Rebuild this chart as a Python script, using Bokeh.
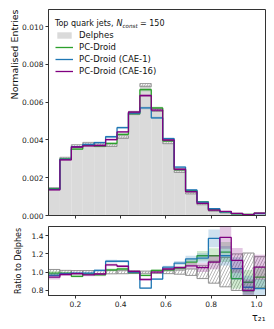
import numpy as np
from bokeh.plotting import figure
from bokeh.layouts import column
from bokeh.models import Legend, LegendItem, Label, FixedTicker, PrintfTickFormatter, Range1d, Title
from bokeh.embed import file_html
from bokeh.resources import INLINE

# ---------------- data ----------------
bin_lo, bin_hi, n_bins = 0.081, 1.04, 19
x_ticks = [0.2, 0.4, 0.6, 0.8, 1.0]
y_ticks_main = [0.0, 0.002, 0.004, 0.006, 0.008, 0.010]
y_ticks_ratio = [0.8, 1.0, 1.2, 1.4]

delphes = [0.00143, 0.00302, 0.00368, 0.00380, 0.00378, 0.00372, 0.00415, 0.00542,
           0.00690, 0.00558, 0.00386, 0.00233, 0.00118, 0.00061, 0.00026, 0.00016,
           0.00010, 0.00006, 0.00012]
ratio_pc = [0.99, 0.99, 0.955, 0.98, 0.97, 1.025, 1.035, 0.995, 0.965, 1.02,
            1.025, 1.045, 1.11, 1.18, 1.18, 1.22, 0.93, 0.89, 0.945]
ratio_cae1 = [0.965, 0.985, 0.99, 0.99, 1.02, 1.12, 1.12, 1.0, 0.825, 0.925,
              1.055, 1.10, 1.145, 1.155, 1.37, 1.18, 1.04, 0.835, 0.82]
ratio_cae16 = [0.945, 0.975, 0.985, 0.97, 0.98, 1.08, 1.065, 1.01, 0.92, 1.0,
               1.035, 1.05, 1.07, 1.05, 1.11, 1.38, 1.13, 0.80, 1.055]
delphes_err = [0.03, 0.02, 0.018, 0.018, 0.018, 0.018, 0.017, 0.015, 0.012, 0.013,
               0.016, 0.022, 0.035, 0.07, 0.12, 0.16, 0.20, 0.21, 0.17]
model_err = [0.025, 0.015, 0.014, 0.014, 0.014, 0.014, 0.013, 0.012, 0.012, 0.012,
             0.014, 0.02, 0.03, 0.045, 0.07, 0.09, 0.12, 0.15, 0.13]

series = [
    ("PC-Droid", ratio_pc, "#2ca02c"),
    ("PC-Droid (CAE-1)", ratio_cae1, "#1f77b4"),
    ("PC-Droid (CAE-16)", ratio_cae16, "#800080"),
]

edges = np.linspace(bin_lo, bin_hi, n_bins + 1)
left, right = edges[:-1], edges[1:]
d = np.array(delphes)
de = np.array(delphes_err)
me = np.array(model_err)

FONT = "DejaVu Sans"
AX = "#333333"
TXT = "#111111"


def style(p):
    p.xgrid.visible = False
    p.ygrid.visible = False
    p.outline_line_color = AX
    p.outline_line_width = 1
    p.background_fill_color = "white"
    p.border_fill_color = "white"
    for ax in (p.xaxis[0], p.yaxis[0]):
        ax.axis_line_color = AX
        ax.major_tick_line_color = AX
        ax.major_tick_in = 0
        ax.major_tick_out = 3
        ax.minor_tick_in = 0
        ax.minor_tick_out = 0
        ax.minor_tick_line_color = None
        ax.major_label_text_font = FONT
        ax.major_label_text_font_size = "7.5px"
        ax.major_label_text_color = "#222222"
        ax.major_label_standoff = 2


def style_title(t, size):
    t.text_font = FONT
    t.text_font_size = size
    t.text_font_style = "normal"
    t.text_color = TXT
    t.standoff = 0
    t.offset = 0


x_range = Range1d(bin_lo, bin_hi)

# ---------------- main panel ----------------
p1 = figure(width=266, height=222, x_range=x_range, y_range=Range1d(0, 0.0109),
            output_backend="svg", toolbar_location=None,
            title="Normalised Entries", title_location="left",
            min_border_left=48, min_border_right=1, min_border_top=9, min_border_bottom=7)
style(p1)
style_title(p1.title, "9.5px")
p1.title.align = "right"
p1.yaxis.ticker = FixedTicker(ticks=y_ticks_main, minor_ticks=[])
p1.yaxis.formatter = PrintfTickFormatter(format="%.3f")
p1.xaxis.ticker = FixedTicker(ticks=x_ticks, minor_ticks=[])
p1.xaxis.major_label_text_font_size = "0px"
p1.xaxis.major_label_standoff = 0
p1.xaxis.major_label_overrides = {t: "" for t in x_ticks}

r_del = p1.quad(left=left, right=right, bottom=0, top=d,
                fill_color="#dadada", line_color=None)
p1.quad(left=left, right=right, bottom=d * (1 - de), top=d * (1 + de),
        fill_color=None, line_color="#888888", line_width=0.8,
        hatch_pattern="/", hatch_color="#888888", hatch_weight=0.6, hatch_scale=5)

items = [LegendItem(label="Delphes", renderers=[r_del])]
for name, ratio, col in series:
    v = d * np.array(ratio)
    p1.quad(left=left, right=right, bottom=v * (1 - me), top=v * (1 + me),
            fill_color=col, fill_alpha=0.3, line_color=None)
    r = p1.step(x=edges, y=np.append(v, v[-1]), mode="after",
                line_color=col, line_width=1.3)
    items.append(LegendItem(label=name, renderers=[r]))

legend = Legend(items=items, location=(7, 139), margin=0, padding=0,
                glyph_width=18, glyph_height=8, label_height=8, label_standoff=6,
                spacing=2, border_line_color=None, background_fill_alpha=0,
                label_text_font=FONT, label_text_font_size="8.5px",
                label_text_color=TXT)
p1.add_layout(legend)

# legend title: Top quark jets, N_const = 150 (anchored at the "N")
tx, ty, ty_sub = 0.3815, 0.010158, 0.010045
p1.add_layout(Label(x=tx, y=ty, x_offset=-3, text="Top quark jets,", text_font=FONT,
                    text_font_size="8px", text_align="right",
                    text_baseline="alphabetic", text_color=TXT))
p1.add_layout(Label(x=tx, y=ty, text="N", text_font=FONT,
                    text_font_style="italic", text_font_size="8px",
                    text_baseline="alphabetic", text_color=TXT))
p1.add_layout(Label(x=tx, y=ty_sub, x_offset=6, text="const", text_font=FONT,
                    text_font_style="italic", text_font_size="5.6px",
                    text_baseline="alphabetic", text_color=TXT))
p1.add_layout(Label(x=tx, y=ty, x_offset=23.5, text="= 150", text_font=FONT,
                    text_font_size="8px", text_baseline="alphabetic", text_color=TXT))

# ---------------- ratio panel ----------------
p2 = figure(width=266, height=104, x_range=x_range, y_range=Range1d(0.745, 1.5),
            output_backend="svg", toolbar_location=None,
            title="Ratio to Delphes", title_location="left",
            min_border_left=48, min_border_right=1, min_border_top=4, min_border_bottom=31)
style(p2)
style_title(p2.title, "8px")
p2.title.align = "center"
p2.title.standoff = 12
p2.yaxis.ticker = FixedTicker(ticks=y_ticks_ratio, minor_ticks=[])
p2.yaxis.formatter = PrintfTickFormatter(format="%.1f")
p2.xaxis.ticker = FixedTicker(ticks=x_ticks, minor_ticks=[])
p2.xaxis.formatter = PrintfTickFormatter(format="%.1f")

xlab = Title(text="τ₂₁", align="right")
style_title(xlab, "9.6px")
p2.add_layout(xlab, "below")

p2.quad(left=left, right=right, bottom=1 - de, top=1 + de,
        fill_color=None, line_color="#888888", line_width=0.9,
        hatch_pattern="/", hatch_color="#888888", hatch_weight=0.6, hatch_scale=6)
for name, ratio, col in series:
    rv = np.array(ratio)
    p2.quad(left=left, right=right, bottom=rv * (1 - me), top=rv * (1 + me),
            fill_color=col, fill_alpha=0.22, line_color=None)
    p2.step(x=edges, y=np.append(rv, rv[-1]), mode="after", line_color=col, line_width=1.3)

layout = column(p1, p2, spacing=0)
open("out.html", "w").write(file_html(layout, INLINE))
